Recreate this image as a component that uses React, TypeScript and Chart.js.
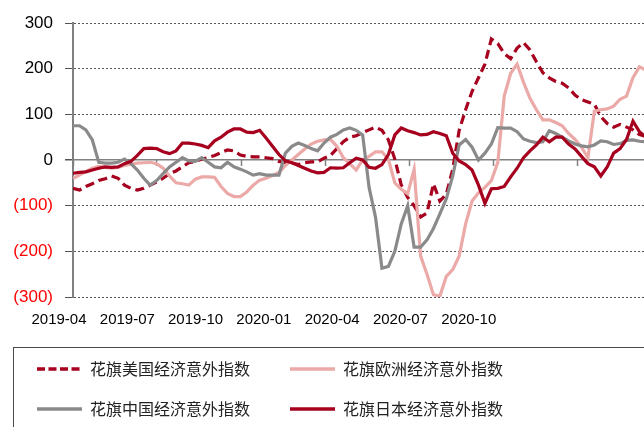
import React, { useEffect, useRef } from 'react';
import { Chart, registerables } from 'chart.js';

Chart.register(...registerables);

// Series names (legend order)
const seriesNames = [
  '花旗美国经济意外指数',
  '花旗欧洲经济意外指数',
  '花旗中国经济意外指数',
  '花旗日本经济意外指数',
];

// X axis: days since 2019-04-01, weekly observations
const weekDays = Array.from({ length: 90 }, (_, k) => k * 7);
const xMaxDay = 621;
// tick label texts and the day positions where they are printed
const xLabels = ['2019-04', '2019-07', '2019-10', '2020-01', '2020-04', '2020-07', '2020-10'];
const xLabelDays = [0, 74.3, 148.5, 222.8, 297.1, 371.3, 445.6];
// quarter start days (small tick marks on the zero line)
const quarterDays = [0, 91, 183, 275, 366, 457, 549];

// Y axis ticks
const yTicks = [-300, -200, -100, 0, 100, 200, 300];

// Weekly values
const usValues = [
  -62, -66, -58, -52, -45, -41, -35, -40, -55, -62,
  -66, -62, -55, -48, -40, -30, -24, -15, -6, -3,
  2, 5, 10, 16, 22, 20, 11, 8, 7, 7,
  5, 3, -3, -6, -6, -10, -6, -4, -4, 4,
  10, 25, 40, 50, 53, 60, 66, 72, 65, 44,
  2, -55, -82, -100, -125, -116, -52, -90, -75, -20,
  65, 110, 150, 180, 210, 265, 255, 233, 222, 245,
  257, 241, 215, 191, 180, 172, 168, 158, 142, 132,
  127, 122, 95, 80, 72, 78, 72, 66, 56, 52,
];

const europeValues = [
  -40, -33, -25, -18, -14, -16, -18, -16, -12, -9,
  -7, -6, -5, -8, -18, -35, -50, -52, -55, -42,
  -37, -37, -38, -58, -73, -80, -80, -70, -55, -44,
  -40, -34, -27, -12, 0, 12, 24, 35, 41, 44,
  45, 30, 5, -8, -22, 0, 8, 18, 18, 2,
  -50, -64, -74, -20, -210, -250, -295, -298, -255, -240,
  -210, -140, -90, -72, -60, -45, -5, 140, 190, 210,
  170, 135, 110, 88, 88, 82, 75, 58, 45, 28,
  5, 107, 110, 112, 118, 133, 140, 180, 204, 197,
];

const chinaValues = [
  75, 75, 66, 44, -5, -7, -7, -5, 2, -8,
  -22, -40, -55, -45, -30, -15, -5, 5, -2, -3,
  5, -5, -15, -17, -5, -15, -20, -26, -33, -30,
  -33, -33, -33, 15, 30, 37, 32, 25, 20, 37,
  50, 56, 66, 70, 65, 55, -60, -125, -237, -233,
  -200, -140, -100, -191, -191, -175, -150, -118, -85, -35,
  33, 45, 28, 0, 15, 35, 71, 70, 70, 62,
  46, 41, 38, 40, 64, 58, 50, 42, 35, 31,
  29, 33, 42, 40, 34, 36, 43, 44, 41, 40,
];

const japanValues = [
  -29, -27, -26, -22, -18, -15, -16, -15, -8, -3,
  10, 25, 26, 25, 18, 14, 20, 37, 37, 35,
  32, 27, 42, 50, 61, 68, 68, 61, 60, 65,
  48, 30, 12, -2, -6, -12, -18, -24, -28, -27,
  -17, -18, -17, -6, 4, 0, -16, -18, -10, 12,
  55, 70, 64, 60, 55, 56, 62, 58, 53, 15,
  -2, -10, -22, -55, -95, -63, -62, -58, -37, -18,
  5, 20, 33, 50, 40, 50, 50, 35, 24, 8,
  -8, -15, -35, -15, 15, 25, 45, 85, 62, 50,
];

const darkRed = '#A6001E';
const pink = '#EBA9A8';
const gray = '#8A8A8A';

const tickFont = "'Liberation Sans', Arial, sans-serif";

const toPoints = (vals: number[]) => vals.map((v, i) => ({ x: weekDays[i], y: v }));

const legendFrame = {
  id: 'legendFrame',
  afterDraw(chart: any) {
    const lg = chart.legend;
    if (!lg) return;
    const ctx = chart.ctx;
    ctx.save();
    ctx.strokeStyle = '#4a4a4a';
    ctx.lineWidth = 1;
    ctx.strokeRect(Math.round(lg.left) + 0.5, Math.round(lg.top) + 10.5, lg.width + 50, lg.height + 50);
    ctx.restore();
  },
};

export default function App() {
  const ref = useRef<HTMLCanvasElement>(null);

  useEffect(() => {
    if (!ref.current) return;
    const common = { pointRadius: 0, pointHoverRadius: 0, borderWidth: 3.2, fill: false, tension: 0, xAxisID: 'x', yAxisID: 'y', borderCapStyle: 'butt' as const };
    const defaultGen = Chart.defaults.plugins.legend.labels.generateLabels as any;
    const chart = new Chart(ref.current, {
      type: 'line',
      data: {
        datasets: [
          { ...common, label: seriesNames[0], data: toPoints(usValues), borderColor: darkRed, backgroundColor: darkRed, borderDash: [9, 5], order: 4 },
          { ...common, label: seriesNames[1], data: toPoints(europeValues), borderColor: pink, backgroundColor: pink, order: 3 },
          { ...common, label: seriesNames[2], data: toPoints(chinaValues), borderColor: gray, backgroundColor: gray, order: 2 },
          { ...common, label: seriesNames[3], data: toPoints(japanValues), borderColor: darkRed, backgroundColor: darkRed, order: 1 },
        ],
      },
      options: {
        animation: false,
        responsive: false,
        devicePixelRatio: 1,
        layout: { padding: { left: 13, top: 23, right: 0, bottom: 0 } },
        plugins: {
          tooltip: { enabled: false },
          legend: {
            position: 'bottom',
            align: 'start',
            labels: {
              usePointStyle: true,
              pointStyle: 'line',
              pointStyleWidth: 45,
              padding: 24,
              color: '#222',
              font: { family: "'Noto Sans CJK SC', sans-serif", size: 16 },
              sort: (a: any, b: any) => a.datasetIndex - b.datasetIndex,
              generateLabels: (c: any) =>
                defaultGen(c).map((l: any) => {
                  const ds = c.data.datasets[l.datasetIndex];
                  return {
                    ...l,
                    text: l.text + '\u3000',
                    lineDash: ds.borderDash ? [8, 3.5] : [],
                    lineWidth: 3.5,
                    strokeStyle: ds.borderColor,
                    fillStyle: ds.borderColor,
                  };
                }),
            },
          },
        },
        scales: {
          x: {
            type: 'linear',
            position: 'bottom',
            min: 0,
            max: xMaxDay,
            afterBuildTicks: (s: any) => {
              s.ticks = xLabelDays.map((v) => ({ value: v }));
            },
            afterFit: (s: any) => {
              s.height = 40;
            },
            grid: { display: false, drawTicks: false },
            border: { display: false },
            ticks: {
              autoSkip: false,
              maxRotation: 0,
              padding: 14,
              labelOffset: -14,
              color: '#000',
              font: { family: tickFont, size: 15 },
              callback: (_v: any, i: number) => xLabels[i],
            },
          },
          xq: {
            type: 'linear',
            axis: 'x',
            position: { y: 0 },
            min: 0,
            max: xMaxDay,
            afterBuildTicks: (s: any) => {
              s.ticks = quarterDays.map((v) => ({ value: v }));
            },
            grid: { drawOnChartArea: false, drawTicks: true, tickLength: 6, tickColor: '#808080', tickWidth: 1.5 },
            border: { display: false },
            ticks: { display: false },
          },
          y: {
            type: 'linear',
            min: -300,
            max: 300,
            afterBuildTicks: (s: any) => {
              s.ticks = yTicks.map((v) => ({ value: v }));
            },
            afterFit: (s: any) => {
              s.width = 60;
            },
            grid: {
              color: (c: any) => (c.tick && c.tick.value === 0 ? '#808080' : '#555'),
              lineWidth: (c: any) => (c.tick && c.tick.value === 0 ? 1.5 : 1),
              tickLength: 8,
              tickColor: '#555',
            },
            border: {
              display: true,
              color: '#808080',
              width: 2,
              dash: (c: any) => (c.tick && c.tick.value === 0 ? [] : [2, 2]),
            },
            ticks: {
              padding: 12,
              color: (c: any) => (c.tick && c.tick.value < 0 ? '#FF0000' : '#000'),
              font: { family: tickFont, size: 17 },
              callback: (v: any) => (v < 0 ? `(${Math.abs(v)})` : `${v}`),
            },
          },
        },
      },
      plugins: [legendFrame],
    });
    return () => chart.destroy();
  }, []);

  return (
    <div style={{ position: 'fixed', left: 0, top: 0, width: 644, height: 427, background: '#fff' }}>
      <canvas ref={ref} width={644} height={427} style={{ width: 644, height: 427, display: 'block' }} />
    </div>
  );
}
